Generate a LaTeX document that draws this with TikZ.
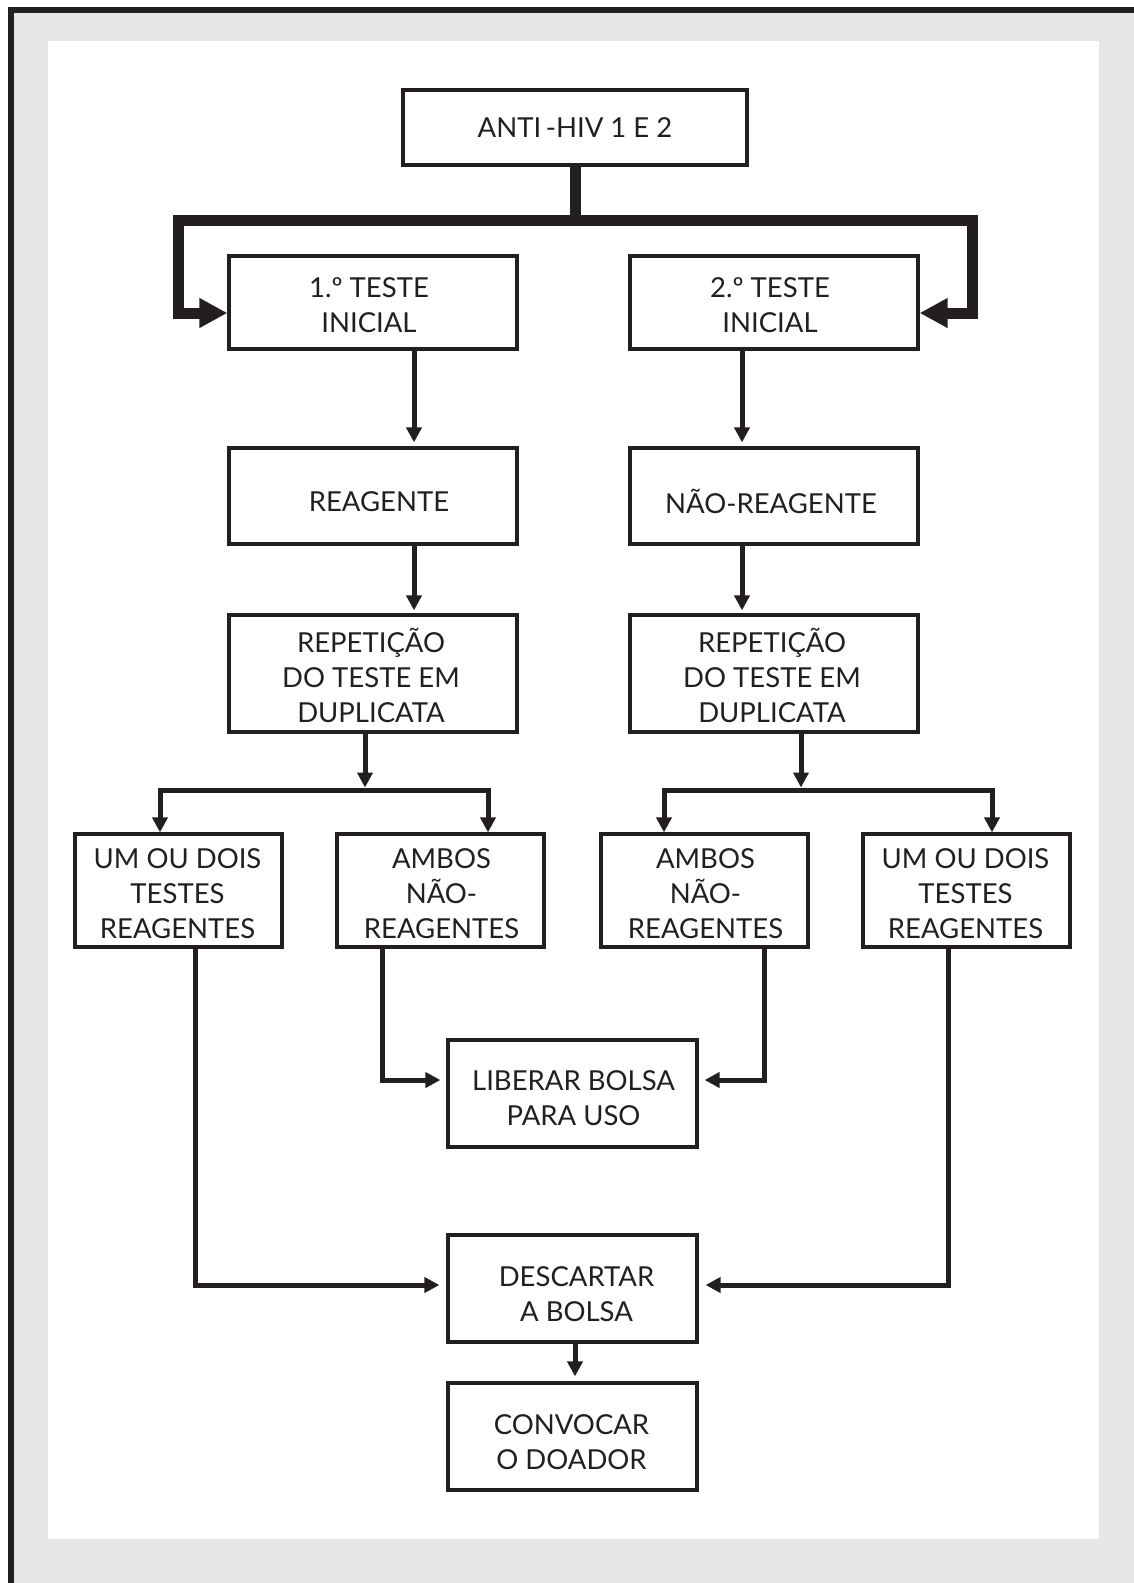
\documentclass[tikz,border=0pt]{standalone}
\usepackage{fontspec}
\setmainfont{Lato}
\usetikzlibrary{arrows.meta}
\definecolor{ink}{HTML}{231F20}
\definecolor{panel}{HTML}{E5E6E8}
\tikzset{
  box/.style={draw=ink, line width=3.2pt, fill=white, inner sep=0pt},
  lbl/.style 2 args={font=\fontsize{27.5}{35}\selectfont, align=center, text=ink,
    inner sep=0pt, xshift=#1, yshift=#2},
  conn/.style={draw=ink, line width=5pt, line join=miter},
  thickc/.style={draw=ink, line width=11pt, line join=miter},
  tri/.tip={Triangle[length=15pt,width=15pt]},
  bigtri/.tip={Triangle[length=28pt,width=28pt]},
}
\begin{document}
\begin{tikzpicture}[x=1pt,y=-1pt]
\useasboundingbox (0,0) rectangle (1134,1583);
% frame
\fill[ink] (8,7) rectangle (1134,1583);
\fill[panel] (14,13) rectangle (1134,1583);
\fill[white] (48,41) rectangle (1099,1539);
% nodes
\node[box, minimum width=344pt, minimum height=75pt,
  label={[lbl={0pt}{0pt}]center:ANTI\,-HIV 1 E 2}] (top) at (575,127.5) {};
\node[box, minimum width=288pt, minimum height=93pt,
  label={[lbl={-4pt}{-3pt}]center:1.º TESTE\\INICIAL}] (b1) at (373,302.5) {};
\node[box, minimum width=288pt, minimum height=93pt,
  label={[lbl={-4pt}{-3pt}]center:2.º TESTE\\INICIAL}] (b2) at (774,302.5) {};
\node[box, minimum width=288pt, minimum height=96pt,
  label={[lbl={6pt}{-6pt}]center:REAGENTE}] (r1) at (373,496) {};
\node[box, minimum width=288pt, minimum height=96pt,
  label={[lbl={-3pt}{-5pt}]center:NÃO-REAGENTE}] (r2) at (774,496) {};
\node[box, minimum width=288pt, minimum height=117pt,
  label={[lbl={-2pt}{-2pt}]center:REPETIÇÃO\\DO TESTE EM\\DUPLICATA}] (d1) at (373,673.5) {};
\node[box, minimum width=288pt, minimum height=117pt,
  label={[lbl={-2pt}{-2pt}]center:REPETIÇÃO\\DO TESTE EM\\DUPLICATA}] (d2) at (774,673.5) {};
\node[box, minimum width=207pt, minimum height=113pt,
  label={[lbl={-1pt}{-3pt}]center:UM OU DOIS\\TESTES\\REAGENTES}] (u1) at (178.5,890.5) {};
\node[box, minimum width=207pt, minimum height=113pt,
  label={[lbl={1pt}{-3pt}]center:AMBOS\\NÃO-\\REAGENTES}] (a1) at (440.5,890.5) {};
\node[box, minimum width=207pt, minimum height=113pt,
  label={[lbl={1pt}{-3pt}]center:AMBOS\\NÃO-\\REAGENTES}] (a2) at (704.5,890.5) {};
\node[box, minimum width=207pt, minimum height=113pt,
  label={[lbl={-1pt}{-3pt}]center:UM OU DOIS\\TESTES\\REAGENTES}] (u2) at (966.5,890.5) {};
\node[box, minimum width=249pt, minimum height=107pt,
  label={[lbl={1pt}{-5pt}]center:LIBERAR BOLSA\\PARA USO}] (lib) at (572.5,1093.5) {};
\node[box, minimum width=249pt, minimum height=107pt,
  label={[lbl={4pt}{-6pt}]center:DESCARTAR\\A BOLSA}] (desc) at (572.5,1288.5) {};
\node[box, minimum width=249pt, minimum height=107pt,
  label={[lbl={-1pt}{-6pt}]center:CONVOCAR\\O DOADOR}] (conv) at (572.5,1436.5) {};
% thick top connectors
\coordinate (tj) at (575,220);
\coordinate (tl) at (178,220);
\coordinate (tr) at (972,220);
\draw[thickc] (top.south) -- (tj);
\draw[thickc,-bigtri] (tj) -- (tl) |- ([yshift=-10.5pt]b1.west);
\draw[thickc,-bigtri] (tj) -- (tr) |- ([yshift=-10.5pt]b2.east);
% vertical chains
\draw[conn,-tri] ([xshift=41pt]b1.south) -- ([xshift=41pt,yshift=4pt]r1.north);
\draw[conn,-tri] ([xshift=41pt]r1.south) -- ([xshift=41pt,yshift=3pt]d1.north);
\draw[conn,-tri] ([xshift=-32pt]b2.south) -- ([xshift=-32pt,yshift=4pt]r2.north);
\draw[conn,-tri] ([xshift=-32pt]r2.south) -- ([xshift=-32pt,yshift=3pt]d2.north);
% splits
\coordinate (jl) at (365,790);
\coordinate (jr) at (801,790);
\draw[conn,-tri] ([xshift=-8pt]d1.south) -- ([yshift=2.5pt]jl);
\draw[conn,tri-tri] ([xshift=-18.5pt]u1.north) |- (jl) -| ([xshift=47.5pt]a1.north);
\draw[conn,-tri] ([xshift=27pt]d2.south) -- ([yshift=2.5pt]jr);
\draw[conn,tri-tri] ([xshift=-40.5pt]a2.north) |- (jr) -| ([xshift=25.5pt]u2.north);
% lower connectors
\draw[conn,-tri] ([xshift=-58.5pt]a1.south) |- ([xshift=-6pt,yshift=13.5pt]lib.west);
\draw[conn,-tri] ([xshift=59.5pt]a2.south) |- ([xshift=6pt,yshift=13.5pt]lib.east);
\draw[conn,-tri] ([xshift=16.5pt]u1.south) |- ([xshift=-7pt,yshift=3.5pt]desc.west);
\draw[conn,-tri] ([xshift=-18.5pt]u2.south) |- ([xshift=7pt,yshift=3.5pt]desc.east);
\draw[conn,-tri] ([xshift=2.5pt]desc.south) -- ([xshift=2.5pt,yshift=5pt]conv.north);
\end{tikzpicture}
\end{document}
